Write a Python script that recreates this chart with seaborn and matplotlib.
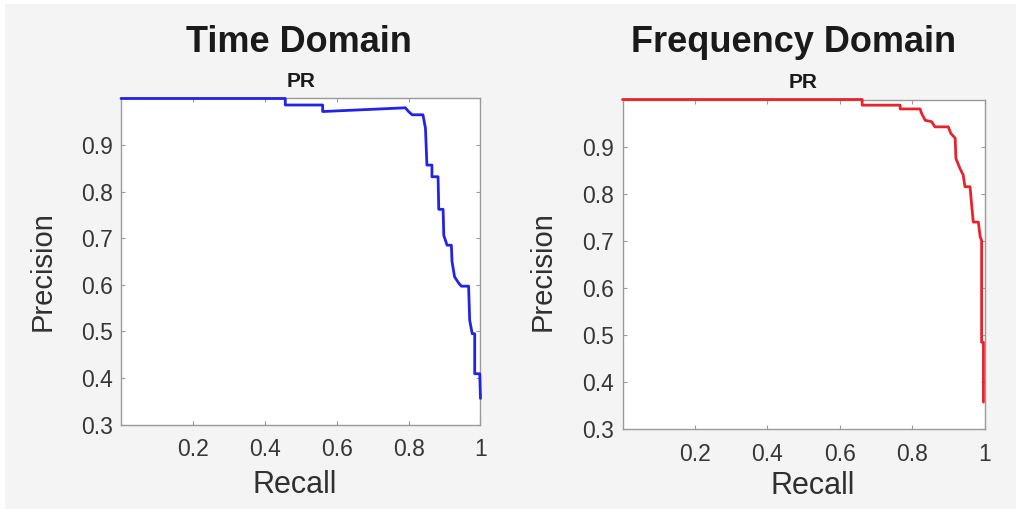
import numpy as np
import pandas as pd
import seaborn as sns
import matplotlib
matplotlib.use("Agg")
import matplotlib.pyplot as plt
from matplotlib.patches import Rectangle

# Precision-recall curve vertices, time-domain features
time_recall = [0.0, 0.457, 0.457, 0.561, 0.561, 0.791, 0.800, 0.810, 0.840, 0.847,
               0.851, 0.865, 0.865, 0.882, 0.884, 0.896, 0.898, 0.907, 0.919, 0.921,
               0.928, 0.940, 0.947, 0.967, 0.970, 0.977, 0.984, 0.984, 0.998, 1.0]
time_precision = [1.0, 1.0, 0.986, 0.986, 0.972, 0.980, 0.972, 0.965, 0.965, 0.936,
                  0.857, 0.857, 0.832, 0.832, 0.762, 0.762, 0.706, 0.685, 0.685, 0.649,
                  0.617, 0.603, 0.597, 0.597, 0.524, 0.495, 0.495, 0.409, 0.409, 0.356]

# Precision-recall curve vertices, frequency-domain features
freq_recall = [0.0, 0.662, 0.662, 0.767, 0.767, 0.822, 0.826, 0.836, 0.854, 0.863,
               0.900, 0.907, 0.919, 0.921, 0.932, 0.941, 0.946, 0.960, 0.965, 0.969,
               0.983, 0.988, 0.992, 0.992, 0.997, 0.997]
freq_precision = [1.0, 1.0, 0.988, 0.988, 0.980, 0.980, 0.971, 0.956, 0.953, 0.942,
                  0.942, 0.928, 0.918, 0.875, 0.854, 0.840, 0.815, 0.815, 0.772, 0.740,
                  0.740, 0.709, 0.701, 0.485, 0.485, 0.358]

panel_titles = ["Time Domain", "Frequency Domain"]
subtitle = "PR"
x_ticks = [0.2, 0.4, 0.6, 0.8, 1.0]
x_tick_labels = ["0.2", "0.4", "0.6", "0.8", "1"]
y_ticks = [0.3, 0.4, 0.5, 0.6, 0.7, 0.8, 0.9]
y_tick_labels = ["0.3", "0.4", "0.5", "0.6", "0.7", "0.8", "0.9"]

sns.set_theme(style="white")
plt.rcParams["font.family"] = ["Liberation Sans", "DejaVu Sans"]

BG = "#f4f4f4"
fig = plt.figure(figsize=(10.16, 5.09), dpi=100, facecolor=BG)
# thin white margin along the top and left edges
fig.patches.append(Rectangle((0, 1 - 4 / 509), 1, 4 / 509, transform=fig.transFigure,
                             facecolor="white", edgecolor="none", zorder=-1))
fig.patches.append(Rectangle((0, 0), 5 / 1016, 1, transform=fig.transFigure,
                             facecolor="white", edgecolor="none", zorder=-1))

ax_time = fig.add_axes([0.1191, 0.1660, 0.3538, 0.6405])
ax_freq = fig.add_axes([0.6127, 0.1562, 0.3563, 0.6483])

panels = [
    (ax_time, time_recall, time_precision, "#2323e6", (-0.217, 0.471), (0.484, -0.186), 0.2943),
    (ax_freq, freq_recall, freq_precision, "#e8232b", (-0.222, 0.480), (0.526, -0.171), 0.7815),
]

for i, (ax, rec, prec, color, ylab_pos, xlab_pos, title_x) in enumerate(panels):
    df = pd.DataFrame({"Recall": rec, "Precision": prec})
    sns.lineplot(data=df, x="Recall", y="Precision", sort=False, estimator=None,
                 color=color, linewidth=2.0, ax=ax, zorder=3, clip_on=False)
    ax.set_facecolor("white")
    ax.set_xlim(0, 1)
    ax.set_ylim(0.3, 1.0)
    ax.set_xticks(x_ticks)
    ax.set_xticklabels(x_tick_labels)
    ax.set_yticks(y_ticks)
    ax.set_yticklabels(y_tick_labels)
    ax.tick_params(axis="both", which="both", direction="in", length=3, width=0.8,
                   color="#9a9a9a", labelcolor="#363636", labelsize=16.5,
                   top=True, right=True, bottom=True, left=True)
    ax.tick_params(axis="x", pad=10)
    ax.tick_params(axis="y", pad=6)
    for sp in ax.spines.values():
        sp.set_visible(True)
        sp.set_color("#9a9a9a")
        sp.set_linewidth(1.0)
    ax.set_xlabel("Recall", fontsize=22, color="#303030", ha="center", va="center")
    ax.set_ylabel("Precision", fontsize=21, color="#303030", ha="center", va="center")
    ax.yaxis.set_label_coords(*ylab_pos)
    ax.xaxis.set_label_coords(*xlab_pos)
    ax.set_title(subtitle, fontsize=15, fontweight="bold", color="#1a1a1a", pad=8)
    fig.text(title_x, 0.9165, panel_titles[i], fontsize=26, fontweight="bold",
             color="#1a1a1a", ha="center", va="center")

fig.savefig("out.png", dpi=100, facecolor=BG)
